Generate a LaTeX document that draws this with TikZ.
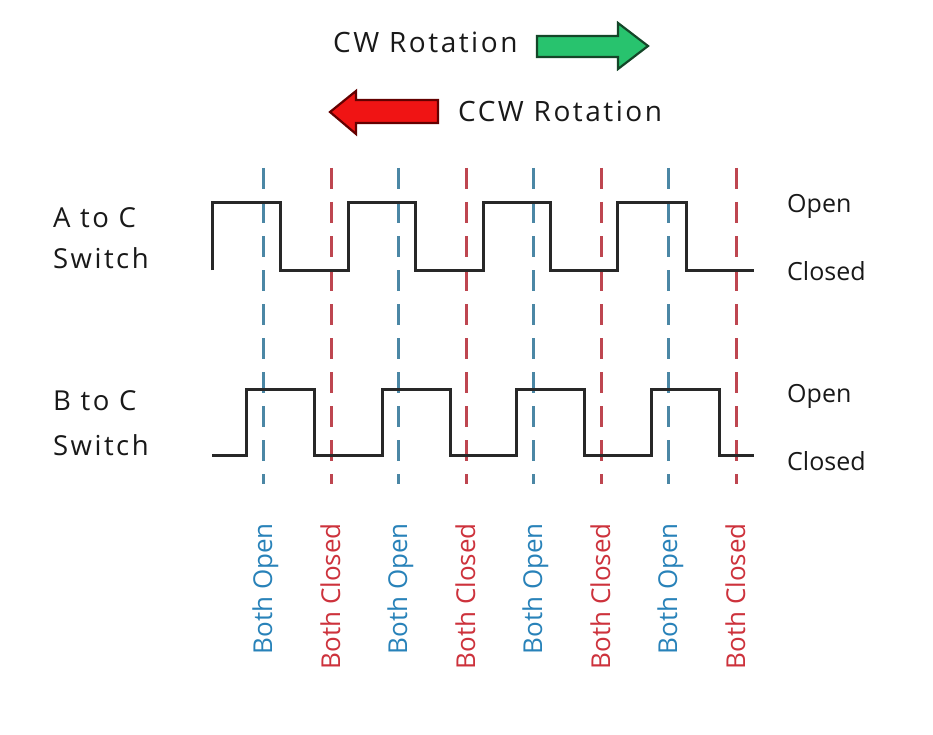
\documentclass[tikz,border=0pt]{standalone}
\usepackage{fontspec}
\setmainfont{Open Sans}
\newfontfamily\spacedfont[LetterSpace=9]{Open Sans}
\definecolor{txt}{RGB}{25,25,25}
\definecolor{wave}{RGB}{40,40,40}
\definecolor{dashblue}{RGB}{75,135,165}
\definecolor{dashred}{RGB}{190,70,80}
\definecolor{lblblue}{RGB}{40,130,185}
\definecolor{lblred}{RGB}{205,50,60}
\definecolor{arrgreen}{RGB}{40,195,110}
\definecolor{arrgreenedge}{RGB}{20,70,40}
\definecolor{arrred}{RGB}{240,20,20}
\definecolor{arrrededge}{RGB}{100,0,0}
\tikzset{
  bigtext/.style={inner sep=0pt, text=txt, font=\spacedfont\fontsize{28}{34}\selectfont},
  sidetext/.style={inner sep=0pt, text=txt, font=\spacedfont\fontsize{27.5}{33}\selectfont},
  leveltext/.style={inner sep=0pt, text=txt, font=\fontsize{25}{30}\selectfont, anchor=base west},
  vlabel/.style={inner sep=0pt, rotate=90, anchor=base east, font=\fontsize{26}{30}\selectfont},
  wavestyle/.style={draw=wave, line width=3pt},
  bluedash/.style={draw=dashblue, line width=3pt, dash pattern=on 21pt off 13pt},
  reddash/.style={draw=dashred, line width=3pt, dash pattern=on 21pt off 13pt},
}
\begin{document}
\begin{tikzpicture}[x=1pt,y=-1pt]
\useasboundingbox[fill=white] (0,0) rectangle (933,735);
% rotation arrows
\node[bigtext, anchor=base west] (cw) at (333,53) {CW Rotation};
\node[bigtext, anchor=base west] (ccw) at (458,122) {CCW Rotation};
\filldraw[fill=arrgreen, draw=arrgreenedge, line width=2.2pt, line join=miter]
  (537,36) -- (618,36) -- (618,23) -- (648,46) -- (618,69) -- (618,57) -- (537,57) -- cycle;
\filldraw[fill=arrred, draw=arrrededge, line width=2.2pt, line join=miter]
  (438,100) -- (356,100) -- (356,91) -- (330,112) -- (356,134) -- (356,123) -- (438,123) -- cycle;
% switch labels
\node[sidetext, anchor=base west] (a1) at (53,227) {A to C};
\node[sidetext, anchor=base west] (a2) at (53,268) {Switch};
\node[sidetext, anchor=base west] (b1) at (53,410) {B to C};
\node[sidetext, anchor=base west] (b2) at (53,455) {Switch};
% level labels
\node[leveltext] (aopen) at (787,212) {Open};
\node[leveltext] (aclosed) at (787,280) {Closed};
\node[leveltext] (bopen) at (787,402) {Open};
\node[leveltext] (bclosed) at (787,470) {Closed};
% dashed markers
\foreach \x in {263,398,533,668} {\draw[bluedash] (\x,168) -- (\x,484);}
\foreach \x in {331,466,601,736} {\draw[reddash] (\x,168) -- (\x,484);}
% waveforms
\draw[wavestyle, line join=miter]
  (212,270) -- (212,203) -- (280,203) -- (280,270) -- (348,270) -- (348,203) -- (415,203) -- (415,270)
  -- (483,270) -- (483,203) -- (550,203) -- (550,270) -- (617,270) -- (617,203) -- (686,203) -- (686,270) -- (754,270);
\draw[wavestyle, line join=miter]
  (212,455) -- (246,455) -- (246,389) -- (314,389) -- (314,455) -- (382,455) -- (382,389) -- (450,389) -- (450,455)
  -- (516,455) -- (516,389) -- (584,389) -- (584,455) -- (651,455) -- (651,389) -- (719,389) -- (719,455) -- (754,455);
% vertical labels
\foreach \x/\n in {272/1,407/2,542/3,677/4} {\node[vlabel, text=lblblue] (open\n) at (\x,523) {Both Open};}
\foreach \x/\n in {340/1,475/2,610/3,745/4} {\node[vlabel, text=lblred] (closed\n) at (\x,523) {Both Closed};}
\end{tikzpicture}
\end{document}
